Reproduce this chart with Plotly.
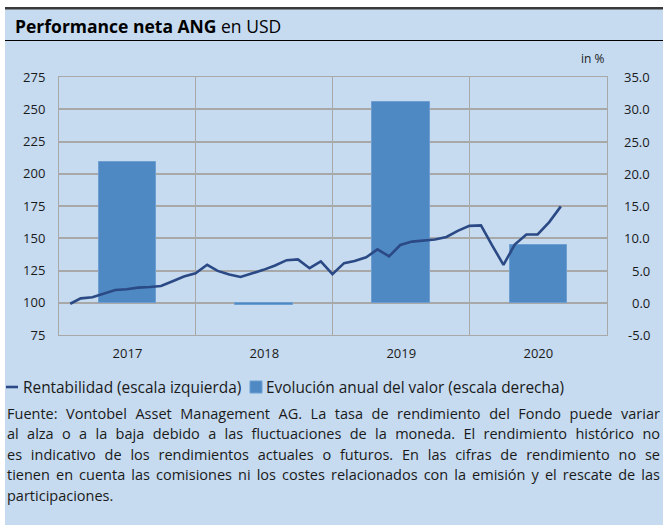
import json
import plotly.graph_objects as go
import pandas as pd

# ---------------- data ----------------
years = ["2017", "2018", "2019", "2020"]
annual_pct = [21.8, -0.4, 31.2, 8.9]

perf_index = [
    99.2, 103.4, 104.2, 106.8, 109.9, 110.4, 111.7, 112.2, 113.0, 116.7, 120.3, 122.9,
    129.4, 124.7, 121.9, 120.0, 122.7, 125.5, 128.9, 133.0, 133.6, 126.8, 132.0, 122.1,
    130.7, 132.3, 135.2, 141.4, 136.0, 144.8, 147.4, 148.2, 149.0, 151.0, 155.7, 159.6,
    160.0, 144.8, 129.4, 145.1, 152.9, 152.9, 162.5, 174.7,
]
month_ends = pd.date_range("2017-01-31", periods=len(perf_index), freq="ME")

left_ticks = [75, 100, 125, 150, 175, 200, 225, 250, 275]
right_ticks = [-5, 0, 5, 10, 15, 20, 25, 30, 35]

title_bold = "Performance neta ANG"
title_rest = "en USD"
unit_label = "in %"
legend_line = "Rentabilidad (escala izquierda)"
legend_bar = "Evolución anual del valor (escala derecha)"
footnote_lines = [
    "Fuente: Vontobel Asset Management AG. La tasa de rendimiento del Fondo puede variar",
    "al alza o a la baja debido a las fluctuaciones de la moneda. El rendimiento histórico no",
    "es indicativo de los rendimientos actuales o futuros. En las cifras de rendimiento no se",
    "tienen en cuenta las comisiones ni los costes relacionados con la emisión y el rescate de las",
    "participaciones.",
]

# ---------------- style ----------------
BG = "#C6DBF0"
BAR = "#4F89C4"
BAR_EDGE = "#6C9ED2"
LINE = "#2B4A85"
GRID = "#A8A8A8"
FONT = "Open Sans"
TXT = "#1a1a1a"

W, H = 663, 525
ML, MR, MT, MB = 59, 56, 77, 190
PW, PH = W - ML - MR, H - MT - MB


def px(x):
    return (x - ML) / PW


def py(y):
    return (H - MB - y) / PH


bar_x = [pd.Timestamp(f"{y}-07-02") for y in years]
bar_w = 0.42 * 365 * 24 * 3600 * 1000

fig = go.Figure()
fig.add_trace(go.Bar(
    x=bar_x, y=annual_pct, width=[bar_w] * len(years), yaxis="y",
    marker=dict(color=BAR, line=dict(color=BAR_EDGE, width=1)),
    name=legend_bar, showlegend=False,
))
fig.add_trace(go.Scatter(
    x=month_ends, y=perf_index, mode="lines", yaxis="y2",
    line=dict(color=LINE, width=2.6), name=legend_line, showlegend=False,
))

shapes = [
    dict(type="rect", xref="paper", yref="paper", x0=px(0), x1=px(5), y0=py(H), y1=py(0),
         fillcolor="white", line=dict(width=0), layer="below"),
    dict(type="rect", xref="paper", yref="paper", x0=px(0), x1=px(W), y0=py(7), y1=py(0),
         fillcolor="white", line=dict(width=0), layer="below"),
    dict(type="rect", xref="paper", yref="paper", x0=px(5), x1=px(W), y0=py(9.5), y1=py(7),
         fillcolor="#3A3A3A", line=dict(width=0)),
    dict(type="line", xref="paper", yref="paper", x0=px(5), x1=px(W), y0=py(40.5), y1=py(40.5),
         line=dict(color="black", width=1.2)),
    dict(type="line", xref="paper", yref="paper", x0=px(6), x1=px(18), y0=py(387), y1=py(387),
         line=dict(color=LINE, width=2.6)),
    dict(type="rect", xref="paper", yref="paper", x0=px(250), x1=px(262), y0=py(393), y1=py(381),
         fillcolor=BAR, line=dict(color=BAR_EDGE, width=1)),
]

annotations = [
    dict(text=f"<b>{title_bold}</b> {title_rest}", x=px(13), y=py(26), xref="paper", yref="paper",
         xanchor="left", yanchor="middle", showarrow=False, font=dict(size=17.5, color="black", family=FONT)),
    dict(text=unit_label, x=px(607), y=py(58), xref="paper", yref="paper",
         xanchor="right", yanchor="middle", showarrow=False, font=dict(size=12, color=TXT, family=FONT)),
    dict(text=legend_line, x=px(21), y=py(387), xref="paper", yref="paper",
         xanchor="left", yanchor="middle", showarrow=False, font=dict(size=15.4, color=TXT, family=FONT)),
    dict(text=legend_bar, x=px(264), y=py(387), xref="paper", yref="paper",
         xanchor="left", yanchor="middle", showarrow=False, font=dict(size=15.4, color=TXT, family=FONT)),
]
# right-hand (%) axis labels, right-aligned like the original
for v in right_ticks:
    annotations.append(dict(
        text=f"{v:.1f}", x=px(652), y=v, xref="paper", yref="y",
        xanchor="right", yanchor="middle", showarrow=False,
        font=dict(size=13, color=TXT, family=FONT),
    ))
for i, line in enumerate(footnote_lines):
    annotations.append(dict(
        text=line, x=px(5), y=py(413 + i * 20.6), xref="paper", yref="paper",
        xanchor="left", yanchor="middle", align="left", showarrow=False,
        font=dict(size=14.5, color=TXT, family=FONT),
    ))

fig.update_layout(
    width=W, height=H,
    margin=dict(l=ML, r=MR, t=MT, b=MB, pad=0),
    paper_bgcolor=BG, plot_bgcolor=BG,
    font=dict(family=FONT, size=13, color=TXT),
    showlegend=False,
    bargap=0,
    xaxis=dict(
        type="date", range=["2017-01-01", "2021-01-01"],
        tick0="2017-01-01", dtick="M12", tickformat="%Y", ticklabelmode="period",
        showgrid=True, gridcolor=GRID, gridwidth=1,
        showline=True, linecolor=GRID, mirror=True,
        ticks="", ticklen=0, tickfont=dict(size=13, color=TXT), ticklabelstandoff=6,
        zeroline=False, fixedrange=True,
    ),
    yaxis=dict(
        range=[-5, 35], tickvals=right_ticks, side="right", showticklabels=False,
        showgrid=True, gridcolor=GRID, gridwidth=1.5, zeroline=False,
        showline=True, linecolor=GRID, ticks="",
    ),
    yaxis2=dict(
        range=[75, 275], tickvals=left_ticks, overlaying="y", side="left",
        showgrid=False, zeroline=False, showline=True, linecolor=GRID, ticks="",
        tickfont=dict(size=13, color=TXT), ticklabelstandoff=10,
    ),
    shapes=shapes,
    annotations=annotations,
)

# justify the footnote paragraph (all lines but the last) to the right edge
justify_lines = json.dumps(footnote_lines[:-1])
post_js = """
(function(){
  var lines = %s;
  var gd = document.getElementById('{plot_id}');
  var target = 660;
  function justify(){
    var svg = gd.querySelector('svg.main-svg');
    var origin = svg ? svg.getBoundingClientRect().left : 0;
    gd.querySelectorAll('text.annotation-text').forEach(function(el){
      var t = el.textContent;
      if (lines.indexOf(t) < 0) return;
      var n = (t.match(/ /g) || []).length;
      if (!n) return;
      el.style.wordSpacing = '0px';
      var r = el.getBoundingClientRect();
      var extra = target - (r.right - origin);
      if (extra > 0) el.style.wordSpacing = (extra / n) + 'px';
    });
  }
  justify();
  setTimeout(justify, 50);
})();
""" % justify_lines

fig.write_html("out.html", post_script=post_js)
